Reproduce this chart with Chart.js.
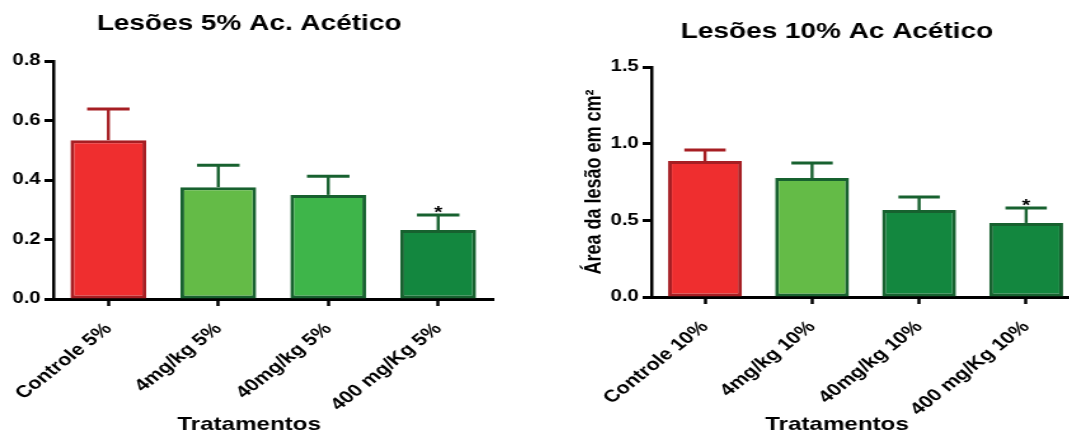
<!DOCTYPE html>
<html>
<head>
<meta charset="utf-8">
<script src="https://cdn.jsdelivr.net/npm/chart.js@4.4.1/dist/chart.umd.min.js"></script>
<style>
html, body { margin: 0; padding: 0; background: #fff; overflow: hidden; width: 1069px; height: 436px; }
canvas { position: absolute; top: 0; }
</style>
</head>
<body>
<!-- the original figure is stretched sideways, so the canvases are drawn narrow and widened by css -->
<canvas id="c5" width="417" height="436" style="left:0;width:530px;height:436px"></canvas>
<canvas id="c10" width="425" height="436" style="left:560px;width:540px;height:436px"></canvas>
<script>
// data (mean and upper error bar)
var labels5 = ['Controle 5%', '4mg/kg 5%', '40mg/kg 5%', '400 mg/Kg 5%'];
var means5 = [0.534, 0.376, 0.350, 0.232];
var errs5 = [0.105, 0.074, 0.063, 0.050];

var labels10 = ['Controle 10%', '4mg/kg 10%', '40mg/kg 10%', '400 mg/Kg 10%'];
var means10 = [0.887, 0.776, 0.567, 0.483];
var errs10 = [0.072, 0.098, 0.085, 0.097];

var marks = ['', '', '', '*'];

var fill5 = ['#EF2E2F', '#64BB47', '#3EB54A', '#13873F'];
var fill10 = ['#EF2E2F', '#64BB47', '#13873F', '#13873F'];
var edges = ['#A61E23', '#17612F', '#17612F', '#17612F'];

var FONT = '"Liberation Sans", Arial, sans-serif';

// error bars + asterisk, drawn from the bar elements and y scale
var errorBars = {
  id: 'errorBars',
  afterDatasetsDraw: function(chart, args, opts) {
    var ctx = chart.ctx;
    var y = chart.scales.y;
    var ds = chart.data.datasets[0];
    chart.getDatasetMeta(0).data.forEach(function(bar, i) {
      var top = y.getPixelForValue(ds.data[i] + opts.errors[i]);
      var half = bar.width * 0.28;
      ctx.save();
      ctx.strokeStyle = ds.borderColor[i];
      ctx.lineWidth = 2.4;
      ctx.beginPath();
      ctx.moveTo(bar.x, bar.y);
      ctx.lineTo(bar.x, top);
      ctx.stroke();
      ctx.lineWidth = 3;
      ctx.beginPath();
      ctx.moveTo(bar.x - half, top);
      ctx.lineTo(bar.x + half, top);
      ctx.stroke();
      if (opts.marks[i]) {
        ctx.fillStyle = '#000';
        ctx.font = 'bold 17px ' + FONT;
        ctx.textAlign = 'center';
        ctx.textBaseline = 'alphabetic';
        ctx.fillText(opts.marks[i], bar.x, top + 3);
      }
      ctx.restore();
    });
  }
};

// chart title and x axis title
var panelText = {
  id: 'panelText',
  afterDraw: function(chart, args, o) {
    var ctx = chart.ctx;
    ctx.save();
    ctx.fillStyle = '#000';
    ctx.textAlign = 'center';
    ctx.textBaseline = 'middle';
    ctx.font = 'bold 22px ' + FONT;
    ctx.fillText(o.title, o.cx, o.titleY);
    ctx.font = 'bold 19px ' + FONT;
    ctx.fillText(o.xTitle, o.cx, o.xTitleY);
    ctx.restore();
  }
};

function makeChart(id, labels, means, errs, fills, cfg) {
  var ctx = document.getElementById(id).getContext('2d');
  return new Chart(ctx, {
    type: 'bar',
    data: {
      labels: labels,
      datasets: [{
        data: means,
        backgroundColor: fills,
        borderColor: edges,
        borderWidth: 3,
        borderSkipped: false,
        barPercentage: 0.69,
        categoryPercentage: 1
      }]
    },
    options: {
      responsive: false,
      animation: false,
      devicePixelRatio: 1,
      layout: { padding: { left: 0, right: cfg.padRight, top: cfg.top, bottom: 0 } },
      plugins: {
        legend: { display: false },
        tooltip: { enabled: false },
        errorBars: { errors: errs, marks: marks },
        panelText: { title: cfg.title, xTitle: 'Tratamentos', cx: cfg.cx, titleY: cfg.titleY, xTitleY: 425 }
      },
      scales: {
        x: {
          grid: { offset: false, drawOnChartArea: false, drawTicks: true, tickLength: 7, tickWidth: 2.5, color: '#000' },
          border: { display: true, color: '#000', width: 3 },
          ticks: {
            color: '#000', font: { family: FONT, size: 17, weight: 'bold' },
            minRotation: 45, maxRotation: 45, autoSkip: false, padding: 13
          },
          afterFit: function(s) {
            s.height = 436 - cfg.bottom;
            s.paddingLeft = 0;
            s.paddingRight = 0;
          }
        },
        y: {
          min: 0, max: cfg.max,
          grid: { drawOnChartArea: false, drawTicks: true, tickLength: 7, tickWidth: 3, color: '#000' },
          border: { display: true, color: '#000', width: 2.5 },
          ticks: {
            stepSize: cfg.step, padding: 3, color: '#000',
            font: { family: FONT, size: 16, weight: 'bold' },
            callback: function(v) { return v.toFixed(1); }
          },
          title: cfg.yTitle ? {
            display: true, text: cfg.yTitle, color: '#000',
            font: { family: FONT, size: 18, weight: 'bold' },
            padding: { top: 16, bottom: 0 }
          } : { display: false },
          afterFit: function(s) { s.width = cfg.yWidth; }
        }
      }
    },
    plugins: [errorBars, panelText]
  });
}

makeChart('c5', labels5, means5, errs5, fill5, {
  title: 'Lesões 5% Ac. Acético', titleY: 24, cx: 196,
  top: 61, bottom: 299, max: 0.8, step: 0.2, yWidth: 42, padRight: 29
});

makeChart('c10', labels10, means10, errs10, fill10, {
  title: 'Lesões 10% Ac Acético', titleY: 32, cx: 218,
  top: 67, bottom: 297, max: 1.5, step: 0.5, yWidth: 72, padRight: 16,
  yTitle: 'Área da lesão em cm²'
});
</script>
</body>
</html>
